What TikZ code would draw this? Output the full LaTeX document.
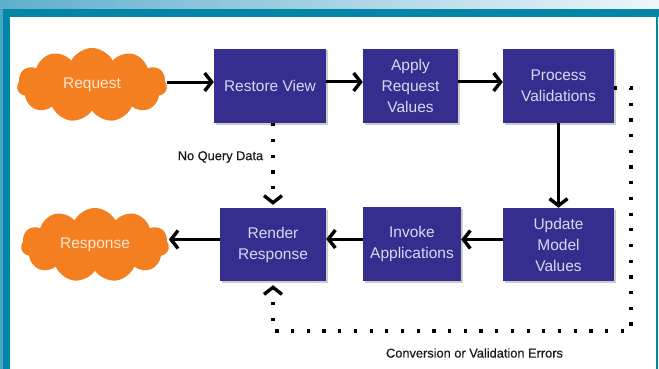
\documentclass[tikz,border=0pt]{standalone}
\usepackage{fontspec}
\setmainfont{Liberation Sans}
\newfontfamily\notefont{Liberation Sans}[FakeBold=0.5]
\usetikzlibrary{arrows.meta,shapes.symbols,shadows}

\definecolor{bandleft}{HTML}{5EAFCD}
\definecolor{bandright}{HTML}{EEF6FA}
\definecolor{frameteal}{HTML}{0385A8}
\definecolor{framelight}{HTML}{45A6C6}
\definecolor{boxblue}{HTML}{362E8E}
\definecolor{boxtext}{HTML}{D8D8F0}
\definecolor{cloudorange}{HTML}{F47F20}
\definecolor{cloudtext}{HTML}{FDE6D2}
\definecolor{labelink}{HTML}{1A1A1A}

\tikzset{
  phase/.style={rectangle, fill=boxblue, text=boxtext, align=center,
    inner sep=0pt, font=\fontsize{15.5}{21}\selectfont,
    drop shadow={shadow xshift=1.5pt, shadow yshift=-1.5pt, fill=black!45, opacity=0.45}},
  endpoint/.style={cloud, cloud puffs=11, cloud puff arc=125, aspect=2.3,
    fill=cloudorange, text=cloudtext, inner sep=0pt,
    font=\fontsize{15.5}{18}\selectfont},
  flow/.style={line width=3pt, -{Straight Barb[length=7pt,width=18pt,line width=3.4pt]}},
  dots/.style={line width=3.2pt, dash pattern=on 3.2pt off 12.5pt,
    -{Straight Barb[length=7pt,width=18pt,line width=3.4pt]}},
  note/.style={text=labelink, font=\notefont\fontsize{12.8}{15}\selectfont}
}

\begin{document}
\begin{tikzpicture}[x=1pt,y=-1pt]
  \useasboundingbox (0,0) rectangle (659,369);
  \fill[white] (0,0) rectangle (659,369);

  % window band and frame
  \shade[left color=bandleft, right color=bandright] (0,0) rectangle (659,9);
  \fill[frameteal] (0,9) rectangle (659,17);
  \fill[framelight] (0,9) rectangle (3,369);
  \fill[frameteal] (3,9) rectangle (10,369);
  \fill[frameteal] (656,17) rectangle (658,369);

  % request / response clouds
  \node[endpoint, minimum width=150pt, minimum height=74pt] (req) at (92,85) {Request};
  \node[endpoint, minimum width=148pt, minimum height=74pt] (resp) at (95,245) {Response};

  % lifecycle phases
  \node[phase, minimum width=112pt, minimum height=74pt] (rest) at (270,86) {Restore View};
  \node[phase, minimum width=95pt, minimum height=74pt] (appl) at (410.5,86) {Apply\\Request\\Values};
  \node[phase, minimum width=111pt, minimum height=74pt] (proc) at (558.5,86) {Process\\Validations};
  \node[phase, minimum width=111pt, minimum height=73pt] (upd) at (558.5,244.5) {Update\\Model\\Values};
  \node[phase, minimum width=98pt, minimum height=74pt] (inv) at (412,244) {Invoke\\Applications};
  \node[phase, minimum width=106pt, minimum height=73pt] (rend) at (273,244.5) {Render\\Response};

  % main flow
  \draw[flow] ([yshift=3pt]req.east) -- ([yshift=3pt]req.east -| rest.west);
  \draw[flow] ([yshift=4pt]rest.east) -- ([yshift=4pt]rest.east -| appl.west);
  \draw[flow] ([yshift=4pt]appl.east) -- ([yshift=4pt]appl.east -| proc.west);
  \draw[flow] (proc.south) -- (upd.north);
  \draw[flow] ([yshift=5pt]upd.west) -- ([yshift=5pt]upd.west -| inv.east);
  \draw[flow] ([yshift=5pt]inv.west) -- ([yshift=5pt]inv.west -| rend.east);
  \draw[flow] ([yshift=5pt]rend.west) -- ([yshift=5pt]rend.west -| resp.east);

  % shortcut and error loop
  \draw[dots, shorten >=3pt] (rend.north |- rest.south) -- (rend.north);
  \coordinate (loopcorner) at (631,331);
  \draw[dots, shorten >=4pt] ([yshift=-2pt]proc.east) -| (loopcorner) -| (rend.south);

  % labels
  \node[note] (nq) at (220.5,157) {No Query Data};
  \node[note] (ce) at (474.5,353) {Conversion or Validation Errors};
\end{tikzpicture}
\end{document}
